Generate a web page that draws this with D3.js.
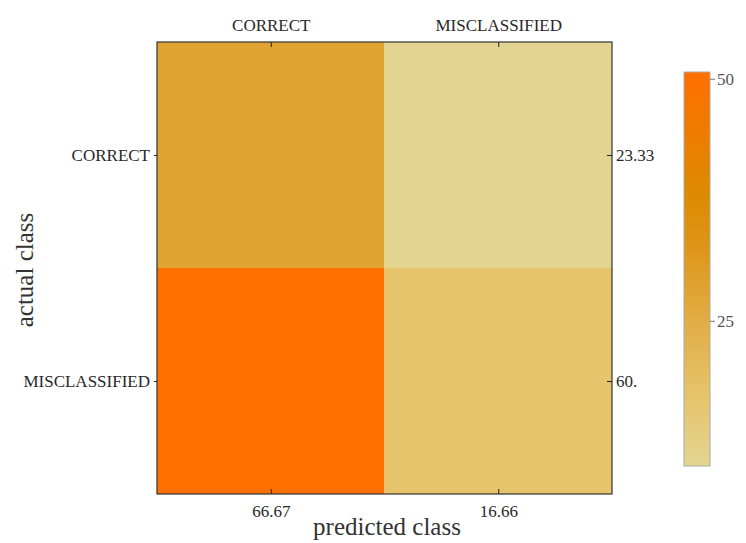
<!DOCTYPE html>
<html>
<head>
<meta charset="utf-8">
<script src="https://cdn.jsdelivr.net/npm/d3@7"></script>
<style>
  body { margin: 0; background: #fff; }
  text { font-family: "Liberation Serif", "DejaVu Serif", serif; }
</style>
</head>
<body>
<script>
// data
var actual = ["CORRECT", "MISCLASSIFIED"];
var predicted = ["CORRECT", "MISCLASSIFIED"];
var cells = [
  [28, 10],   // actual CORRECT
  [50.7, 17]  // actual MISCLASSIFIED
];
var bottomLabels = ["66.67", "16.66"];
var rightLabels = ["23.33", "60."];
var legendTicks = [25, 50];
var rampValues = [10, 17, 25, 33, 38, 45, 50.7];
var rampColors = ["#e3d591", "#e6c46c", "#e1ad45", "#de9416", "#dc8b00", "#f07a00", "#ff7000"];

var W = 746, H = 543;
var frame = {left: 157, top: 42, right: 612, bottom: 494};

var svg = d3.select("body").append("svg")
  .attr("width", W)
  .attr("height", H);

var x = d3.scaleBand().domain(d3.range(predicted.length))
  .range([frame.left, frame.right]);
var y = d3.scaleBand().domain(d3.range(actual.length))
  .range([frame.top, frame.bottom]);

var color = d3.scaleLinear().domain(rampValues).range(rampColors);

var flat = [];
cells.forEach(function(row, i) {
  row.forEach(function(v, j) { flat.push({r: i, c: j, v: v}); });
});

svg.selectAll("rect.cell")
  .data(flat)
.enter().append("rect")
  .attr("class", "cell")
  .attr("x", function(d) { return x(d.c); })
  .attr("y", function(d) { return y(d.r); })
  .attr("width", x.bandwidth())
  .attr("height", y.bandwidth())
  .style("fill", function(d) { return color(d.v); });

svg.append("rect")
  .attr("x", frame.left).attr("y", frame.top)
  .attr("width", frame.right - frame.left)
  .attr("height", frame.bottom - frame.top)
  .style("fill", "none").style("stroke", "#333").style("stroke-width", 1.2);

function styleAxis(g) {
  g.select(".domain").remove();
  g.selectAll(".tick line").style("stroke", "#222");
  g.selectAll(".tick text")
    .style("font-family", "'Liberation Serif', serif")
    .style("font-size", "17px")
    .style("fill", "#282828");
}

var xc = d3.scalePoint().domain(d3.range(2)).range([x(0) + x.bandwidth() / 2, x(1) + x.bandwidth() / 2]);
var yc = d3.scalePoint().domain(d3.range(2)).range([y(0) + y.bandwidth() / 2, y(1) + y.bandwidth() / 2]);

svg.append("g")
  .attr("transform", "translate(0," + frame.top + ")")
  .call(d3.axisTop(xc).tickSize(-5).tickPadding(11).tickFormat(function(i) { return predicted[i]; }))
  .call(styleAxis);

svg.append("g")
  .attr("transform", "translate(0," + frame.bottom + ")")
  .call(d3.axisBottom(xc).tickSize(-5).tickPadding(11).tickFormat(function(i) { return bottomLabels[i]; }))
  .call(styleAxis);

svg.append("g")
  .attr("transform", "translate(" + frame.left + ",0)")
  .call(d3.axisLeft(yc).tickSize(3).tickPadding(4).tickFormat(function(i) { return actual[i]; }))
  .call(styleAxis);

svg.append("g")
  .attr("transform", "translate(" + frame.right + ",0)")
  .call(d3.axisRight(yc).tickSize(-5).tickPadding(4).tickFormat(function(i) { return rightLabels[i]; }))
  .call(styleAxis);

// axis titles
svg.append("text")
  .attr("x", 387).attr("y", 535)
  .attr("text-anchor", "middle")
  .style("font-size", "25px").style("fill", "#333")
  .text("predicted class");

svg.append("text")
  .attr("transform", "translate(33,270) rotate(-90)")
  .attr("text-anchor", "middle")
  .style("font-size", "25px").style("fill", "#333")
  .text("actual class");

// colour bar
var bar = {x: 684, w: 26, top: 72, bottom: 466};
var ly = d3.scaleLinear().domain([rampValues[0], rampValues[rampValues.length - 1]])
  .range([bar.bottom, bar.top]);

var grad = svg.append("defs").append("linearGradient")
  .attr("id", "ramp").attr("x1", 0).attr("y1", 1).attr("x2", 0).attr("y2", 0);
grad.selectAll("stop")
  .data(rampValues)
.enter().append("stop")
  .attr("offset", function(v) { return (ly(v) - bar.bottom) / (bar.top - bar.bottom); })
  .attr("stop-color", function(v) { return color(v); });

svg.append("rect")
  .attr("x", bar.x).attr("y", bar.top)
  .attr("width", bar.w).attr("height", bar.bottom - bar.top)
  .style("fill", "url(#ramp)")
  .style("stroke", "#aaa").style("stroke-width", 1);

svg.append("g")
  .attr("transform", "translate(" + (bar.x + bar.w) + ",0)")
  .call(d3.axisRight(ly).tickValues(legendTicks).tickSize(5).tickPadding(2))
  .call(function(g) {
    g.select(".domain").remove();
    g.selectAll(".tick line").style("stroke", "#777");
    g.selectAll(".tick text")
      .style("font-family", "'Liberation Serif', serif")
      .style("font-size", "17px").style("fill", "#555");
  });
</script>
</body>
</html>
